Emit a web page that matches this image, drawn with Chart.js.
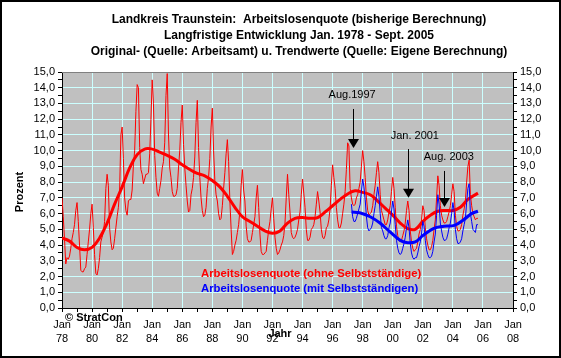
<!DOCTYPE html>
<html><head><meta charset="utf-8">
<script src="https://cdn.jsdelivr.net/npm/chart.js@4.4.1/dist/chart.umd.min.js"></script>
<style>html,body{margin:0;padding:0;background:#fff;}canvas{display:block;}</style>
</head><body>
<canvas id="c" width="561" height="358"></canvas>
<script>
// ---- data (monthly, Jan 1978 - Sept 2005) ----
const redStartYear = 1978;
const redRate = [
  7.0, 5.8, 4.4, 2.8, 3.2, 3.1, 3.3, 3.8, 4.4, 4.8, 5.3, 6.2,   // 1978
  6.7, 5.5, 4.0, 2.4, 2.3, 2.3, 2.5, 2.6, 3.4, 4.2, 5.0, 6.0,   // 1979
  6.6, 5.1, 3.4, 2.2, 2.1, 2.5, 3.2, 4.2, 4.5, 4.8, 5.5, 7.6,   // 1980
  8.5, 7.8, 5.1, 4.2, 3.7, 3.8, 4.4, 5.1, 5.8, 6.4, 7.5, 11.0,  // 1981
  11.5, 9.5, 7.0, 6.2, 5.9, 6.8, 6.9, 6.9, 7.5, 9.1, 10.0, 12.5,// 1982
  14.2, 14.0, 10.2, 8.8, 8.5, 7.9, 8.2, 8.5, 8.5, 8.6, 9.8, 12.0,// 1983
  14.5, 13.0, 9.7, 8.3, 7.3, 7.1, 7.6, 8.1, 8.9, 9.3, 10.5, 13.5,// 1984
  14.9, 11.0, 8.9, 8.3, 7.4, 7.1, 7.1, 7.2, 7.6, 8.9, 10.0, 11.8,// 1985
  12.9, 10.4, 8.9, 7.8, 6.8, 6.1, 6.2, 7.2, 7.6, 8.3, 9.6, 11.8, // 1986
  13.2, 10.2, 8.3, 7.0, 6.2, 5.8, 5.9, 6.4, 7.6, 8.3, 9.5, 11.5, // 1987
  12.7, 10.0, 8.1, 7.2, 6.8, 6.0, 5.6, 5.7, 6.5, 7.6, 8.6, 9.8,  // 1988
  10.7, 9.3, 6.8, 5.0, 3.4, 3.6, 4.0, 4.3, 4.8, 5.3, 6.2, 7.8,   // 1989
  8.8, 7.5, 6.8, 5.2, 4.4, 4.2, 4.2, 4.3, 4.8, 5.3, 5.8, 7.0,    // 1990
  7.8, 6.4, 4.7, 3.6, 3.4, 3.4, 3.5, 3.6, 4.3, 5.0, 5.5, 6.3,    // 1991
  7.0, 5.7, 4.5, 3.8, 3.4, 3.5, 3.7, 4.0, 4.2, 4.6, 5.4, 7.0,    // 1992
  8.5, 7.2, 6.1, 4.8, 4.5, 4.4, 4.5, 4.7, 5.0, 5.6, 6.1, 7.2,    // 1993
  8.2, 7.3, 6.4, 5.0, 4.3, 4.3, 4.5, 5.0, 5.1, 5.3, 5.8, 6.6,    // 1994
  7.4, 6.8, 6.1, 5.0, 4.5, 4.4, 4.6, 5.1, 5.2, 5.6, 6.3, 7.8,    // 1995
  9.1, 8.3, 7.6, 6.4, 5.6, 5.1, 5.1, 5.4, 6.0, 6.6, 7.4, 8.8,    // 1996
  10.5, 10.3, 7.6, 7.0, 6.6, 6.5, 6.6, 7.0, 7.2, 7.6, 8.0, 9.0,  // 1997
  10.0, 9.3, 8.3, 7.0, 6.2, 5.9, 6.0, 6.1, 6.5, 7.2, 7.8, 8.6,   // 1998
  9.3, 8.6, 7.2, 6.2, 5.9, 5.6, 5.3, 5.3, 5.6, 6.1, 6.5, 7.4,    // 1999
  8.3, 7.6, 6.4, 5.2, 4.6, 4.3, 4.2, 4.3, 4.6, 4.9, 5.4, 6.2,    // 2000
  6.8, 6.2, 4.9, 4.2, 3.8, 3.6, 3.7, 3.8, 4.2, 4.7, 5.0, 5.6,    // 2001
  6.5, 6.2, 5.1, 4.4, 4.0, 3.7, 3.7, 3.9, 4.3, 5.0, 5.6, 7.0,    // 2002
  8.4, 7.8, 6.5, 5.9, 5.6, 5.4, 5.4, 5.5, 5.8, 6.1, 6.5, 7.2,    // 2003
  7.9, 7.4, 5.9, 5.2, 4.9, 4.9, 5.0, 5.3, 5.9, 6.3, 6.8, 8.0,    // 2004
  9.0, 9.4, 7.2, 6.5, 6.0, 5.8, 5.6, 5.7, 5.7                    // 2005 (Jan-Sep)
];
const blueStartYear = 1997.25; // April 1997
const blueRate = [
  6.6, 5.8, 5.5, 5.5, 5.7, 6.0, 6.3, 6.6, 7.4,                   // 1997 (Apr-Dec)
  8.2, 7.7, 6.9, 5.8, 5.1, 4.9, 5.0, 5.1, 5.4, 6.0, 6.5, 7.1,    // 1998
  7.7, 7.1, 6.0, 5.1, 4.9, 4.6, 4.4, 4.4, 4.6, 5.1, 5.4, 6.1,    // 1999
  6.8, 6.3, 5.3, 4.3, 3.8, 3.5, 3.4, 3.5, 3.8, 4.1, 4.5, 5.1,    // 2000
  5.6, 5.1, 4.1, 3.5, 3.2, 3.1, 3.2, 3.2, 3.5, 3.9, 4.2, 4.7,    // 2001
  5.5, 5.2, 4.3, 3.7, 3.4, 3.2, 3.2, 3.3, 3.6, 4.2, 4.7, 5.9,    // 2002
  7.2, 6.6, 5.4, 4.9, 4.5, 4.3, 4.3, 4.4, 4.7, 5.1, 5.4, 6.0,    // 2003
  6.7, 6.2, 5.0, 4.4, 4.1, 4.1, 4.2, 4.4, 4.9, 5.3, 5.7, 6.7,    // 2004
  7.6, 7.9, 6.0, 5.5, 5.0, 4.9, 4.8, 5.3, 5.3                    // 2005 (Jan-Sep)
];
// trend values
const redTrendYears = [1978.0,1978.5,1979.0,1979.5,1980.0,1980.5,1981.0,1981.5,1982.0,1982.5,1983.0,1983.5,1984.0,1984.5,1985.0,1985.5,1986.0,1986.5,1987.0,1987.5,1988.0,1988.5,1989.0,1989.5,1990.0,1990.5,1991.0,1991.5,1992.0,1992.5,1993.0,1993.5,1994.0,1994.5,1995.0,1995.5,1996.0,1996.5,1997.0,1997.5,1998.0,1998.5,1999.0,1999.5,2000.0,2000.5,2001.0,2001.5,2002.0,2002.5,2003.0,2003.5,2004.0,2004.5,2005.0,2005.67];
const redTrend = [4.45,4.25,3.85,3.7,3.85,4.45,5.4,6.6,7.7,8.9,9.75,10.1,10.1,9.9,9.7,9.45,9.1,8.8,8.55,8.4,8.1,7.7,7.1,6.4,5.8,5.5,5.2,4.9,4.75,4.9,5.4,5.7,5.75,5.7,5.75,6.1,6.5,6.9,7.25,7.45,7.35,7.2,6.8,6.35,5.9,5.4,5.05,5.0,5.5,5.9,6.15,6.2,6.2,6.4,6.9,7.3];
const blueTrendYears = [1997.26,1997.8,1998.5,1999.15,1999.8,2000.5,2001.0,2001.5,2002.0,2002.7,2003.4,2004.1,2004.7,2005.25,2005.67];
const blueTrend = [6.1,6.05,5.8,5.4,4.85,4.3,4.15,4.2,4.6,5.05,5.2,5.25,5.6,6.0,6.15];

const titleLines = [
  'Landkreis Traunstein:  Arbeitslosenquote (bisherige Berechnung)',
  'Langfristige Entwicklung Jan. 1978 - Sept. 2005',
  'Original- (Quelle: Arbeitsamt) u. Trendwerte (Quelle: Eigene Berechnung)'
];
const seriesNames = ['Arbeitslosenquote (ohne Selbstständige)', 'Arbeitslosenquote (mit Selbstständigen)'];
// annotation arrows: label, arrow year, arrow top value, arrow tip value, label year, label value
const arrowLabels = ['Aug.1997', 'Jan. 2001', 'Aug. 2003'];
const arrowYears = [1997.37, 2001.03, 2003.42];
const arrowTop = [12.65, 10.1, 8.71];
const arrowTip = [10.17, 7.0, 6.42];
const labelYears = [1997.3, 2001.47, 2003.73];
const labelValues = [13.54, 10.93, 9.6];

// ---- build datasets ----
const monthly = (start, arr) => arr.map((v, i) => ({x: start + i / 12, y: v}));
const pairs = (xs, ys) => xs.map((x, i) => ({x, y: ys[i]}));

const FONT = "'Liberation Sans', Arial, sans-serif";
const GRID = '#CCFFFF';

const decor = {
  id: 'decor',
  beforeDraw(chart) {
    const {ctx, chartArea: a} = chart;
    ctx.save();
    ctx.fillStyle = '#fff';
    ctx.fillRect(0, 0, chart.width, chart.height);
    ctx.fillStyle = '#C0C0C0';
    ctx.fillRect(a.left, a.top, a.right - a.left, a.bottom - a.top);
    ctx.restore();
  },
  afterDraw(chart) {
    const {ctx, chartArea: a, scales} = chart;
    const xs = scales.x, ys = scales.y;
    ctx.save();
    // top edge of plot area
    ctx.strokeStyle = '#808080';
    ctx.lineWidth = 1;
    ctx.beginPath(); ctx.moveTo(a.left, a.top + 0.5); ctx.lineTo(a.right, a.top + 0.5); ctx.stroke();
    // frame
    ctx.strokeStyle = '#000';
    ctx.lineWidth = 2;
    ctx.strokeRect(1, 1, chart.width - 2, chart.height - 2);
    // titles
    ctx.fillStyle = '#000';
    ctx.textAlign = 'center';
    ctx.textBaseline = 'middle';
    ctx.font = 'bold 12px ' + FONT;
    titleLines.forEach((t, i) => ctx.fillText(t, 299, 20 + i * 16));
    ctx.font = 'bold 11px ' + FONT;
    // axis titles
    ctx.fillText('Jahr', 280, 334);
    ctx.save();
    ctx.translate(20, 192); ctx.rotate(-Math.PI / 2);
    ctx.fillText('Prozent', 0, 0);
    ctx.restore();
    ctx.textAlign = 'left';
    ctx.fillText('\u00A9 StratCon', 65, 318);
    // legend texts
    ctx.font = 'bold 11.3px ' + FONT;
    ctx.fillStyle = '#FF0000';
    ctx.fillText(seriesNames[0], 201, 274);
    ctx.fillStyle = '#0000FF';
    ctx.fillText(seriesNames[1], 201, 289);
    // annotations
    ctx.fillStyle = '#000';
    ctx.strokeStyle = '#000';
    ctx.font = '11px ' + FONT;
    ctx.textAlign = 'center';
    arrowLabels.forEach((t, i) => {
      ctx.fillText(t, xs.getPixelForValue(labelYears[i]), ys.getPixelForValue(labelValues[i]));
      const px = Math.round(xs.getPixelForValue(arrowYears[i])) + 0.5;
      const y0 = ys.getPixelForValue(arrowTop[i]);
      const y1 = ys.getPixelForValue(arrowTip[i]);
      ctx.lineWidth = 1;
      ctx.beginPath(); ctx.moveTo(px, y0); ctx.lineTo(px, y1 - 8); ctx.stroke();
      ctx.beginPath();
      ctx.moveTo(px - 5.5, y1 - 9); ctx.lineTo(px + 5.5, y1 - 9); ctx.lineTo(px, y1); ctx.closePath();
      ctx.fill();
    });
    ctx.restore();
  }
};

const yTick = v => Number.isInteger(v) ? v.toFixed(1).replace('.', ',') : '';
const yAxis = (pos, w, onChart) => ({
  type: 'linear', position: pos, min: 0, max: 15,
  afterFit(s) { s.width = w; },
  ticks: { stepSize: 0.5, autoSkip: false, color: '#000', padding: 3, font: {family: FONT, size: 11}, callback: yTick },
  grid: {
    drawOnChartArea: onChart,
    color: c => (c.tick && Number.isInteger(c.tick.value) && c.tick.value > 0 && c.tick.value < 15) ? GRID : 'rgba(0,0,0,0)',
    tickColor: '#000', tickLength: 4, lineWidth: 1
  },
  border: { color: '#000', width: 1 }
});

new Chart(document.getElementById('c'), {
  type: 'line',
  data: {
    datasets: [
      { label: seriesNames[1] + ' Trend', data: pairs(blueTrendYears, blueTrend), borderColor: '#0000FF', borderWidth: 3, pointRadius: 0, tension: 0.4, order: 0 },
      { label: seriesNames[1], data: monthly(blueStartYear, blueRate), borderColor: '#0000FF', borderWidth: 1, pointRadius: 0, tension: 0, order: 1 },
      { label: seriesNames[0] + ' Trend', data: pairs(redTrendYears, redTrend), borderColor: '#FF0000', borderWidth: 3, pointRadius: 0, tension: 0.4, order: 2 },
      { label: seriesNames[0], data: monthly(redStartYear, redRate), borderColor: '#FF0000', borderWidth: 1, pointRadius: 0, tension: 0, order: 3 }
    ]
  },
  options: {
    responsive: false, animation: false, devicePixelRatio: 1,
    layout: { padding: { top: 72, left: 0, right: 0, bottom: 0 } },
    plugins: { legend: { display: false }, title: { display: false }, tooltip: { enabled: false } },
    scales: {
      x: {
        type: 'linear', min: 1978, max: 2008,
        afterFit(s) { s.height = 50; },
        ticks: {
          stepSize: 1, autoSkip: false, maxRotation: 0, minRotation: 0, padding: 5, color: '#000',
          font: {family: FONT, size: 11, lineHeight: 1.36},
          callback: v => (v % 2 === 0) ? ['Jan', String(v).slice(2)] : ''
        },
        grid: {
          color: c => (c.tick && c.tick.value % 2 === 0 && c.tick.value > 1978 && c.tick.value < 2008) ? GRID : 'rgba(0,0,0,0)',
          tickColor: '#000', tickLength: 4, lineWidth: 1
        },
        border: { color: '#000', width: 1 }
      },
      y: yAxis('left', 62, true),
      y2: yAxis('right', 48, false)
    }
  },
  plugins: [decor]
});
</script>
</body></html>
